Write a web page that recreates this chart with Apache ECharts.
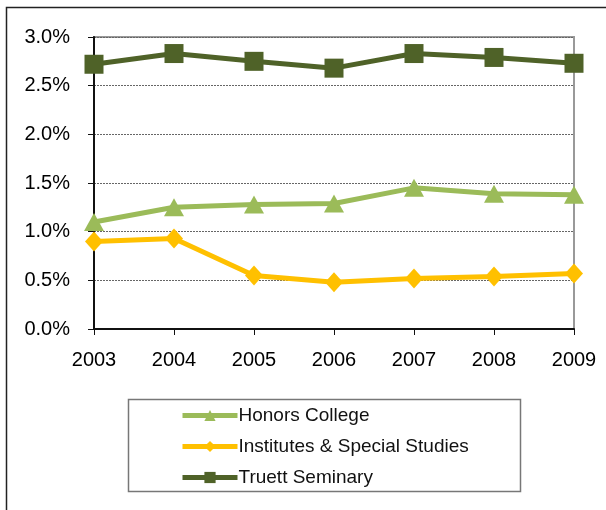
<!DOCTYPE html>
<html>
<head>
<meta charset="utf-8">
<script src="https://cdn.jsdelivr.net/npm/echarts@6/dist/echarts.min.js"></script>
<style>
  html, body { margin: 0; padding: 0; background: #fff; }
  #chart { width: 606px; height: 510px; }
</style>
</head>
<body>
<div id="chart"></div>
<script>
const years = ['2003', '2004', '2005', '2006', '2007', '2008', '2009']
const honors = [1.10, 1.25, 1.28, 1.29, 1.45, 1.39, 1.38]
const institutes = [0.90, 0.93, 0.55, 0.48, 0.52, 0.54, 0.57]
const truett = [2.72, 2.83, 2.75, 2.68, 2.83, 2.79, 2.73]

const chart = echarts.init(document.getElementById('chart'))

function lineSeries(name, data, color, symbol, size) {
  return {
    name: name,
    type: 'line',
    data: data,
    symbol: symbol,
    symbolSize: size,
    clip: false,
    lineStyle: { color: color, width: 5 },
    itemStyle: { color: color },
    emphasis: { disabled: true }
  }
}

chart.setOption({
  animation: false,
  textStyle: { fontFamily: 'Liberation Sans, Arial, sans-serif' },
  graphic: [
    // outer chart border
    { type: 'rect', shape: { x: 6.5, y: 7.5, width: 620, height: 520 }, style: { fill: 'none', stroke: '#222', lineWidth: 1.5 } },
    // legend box
    { type: 'rect', shape: { x: 128.5, y: 399.5, width: 392, height: 92 }, style: { fill: 'none', stroke: '#777', lineWidth: 1.5 } }
  ],
  grid: {
    left: 94, right: 32, top: 37, bottom: 181,
    show: true, borderColor: '#999', borderWidth: 2
  },
  legend: {
    orient: 'vertical',
    left: 180, top: 406,
    itemWidth: 55, itemHeight: 14, itemGap: 12,
    padding: 0,
    lineStyle: { width: 5 },
    textStyle: { fontSize: 19, color: '#111', padding: [0, 0, 0, -4] },
    data: ['Honors College', 'Institutes & Special Studies', 'Truett Seminary']
  },
  xAxis: {
    type: 'category',
    data: years,
    boundaryGap: false,
    axisLine: { lineStyle: { color: '#111', width: 2 } },
    axisTick: { show: true, length: 6, alignWithLabel: true, lineStyle: { color: '#111' } },
    axisLabel: { fontSize: 20, color: '#000', margin: 21 },
    splitLine: { show: false }
  },
  yAxis: {
    type: 'value',
    min: 0, max: 3, interval: 0.5,
    axisLine: { show: true, lineStyle: { color: '#111', width: 2 } },
    axisTick: { show: true, length: 6, lineStyle: { color: '#111' } },
    axisLabel: { fontSize: 20, color: '#000', margin: 24, formatter: v => v.toFixed(1) + '%' },
    splitLine: { lineStyle: { color: '#666', type: [2, 1], width: 1 } }
  },
  series: [
    lineSeries('Honors College', honors, '#9BBB59', 'triangle', [20, 18]),
    lineSeries('Institutes & Special Studies', institutes, '#FFC000', 'diamond', [18, 20]),
    lineSeries('Truett Seminary', truett, '#4F6228', 'rect', 19)
  ]
})
</script>
</body>
</html>
